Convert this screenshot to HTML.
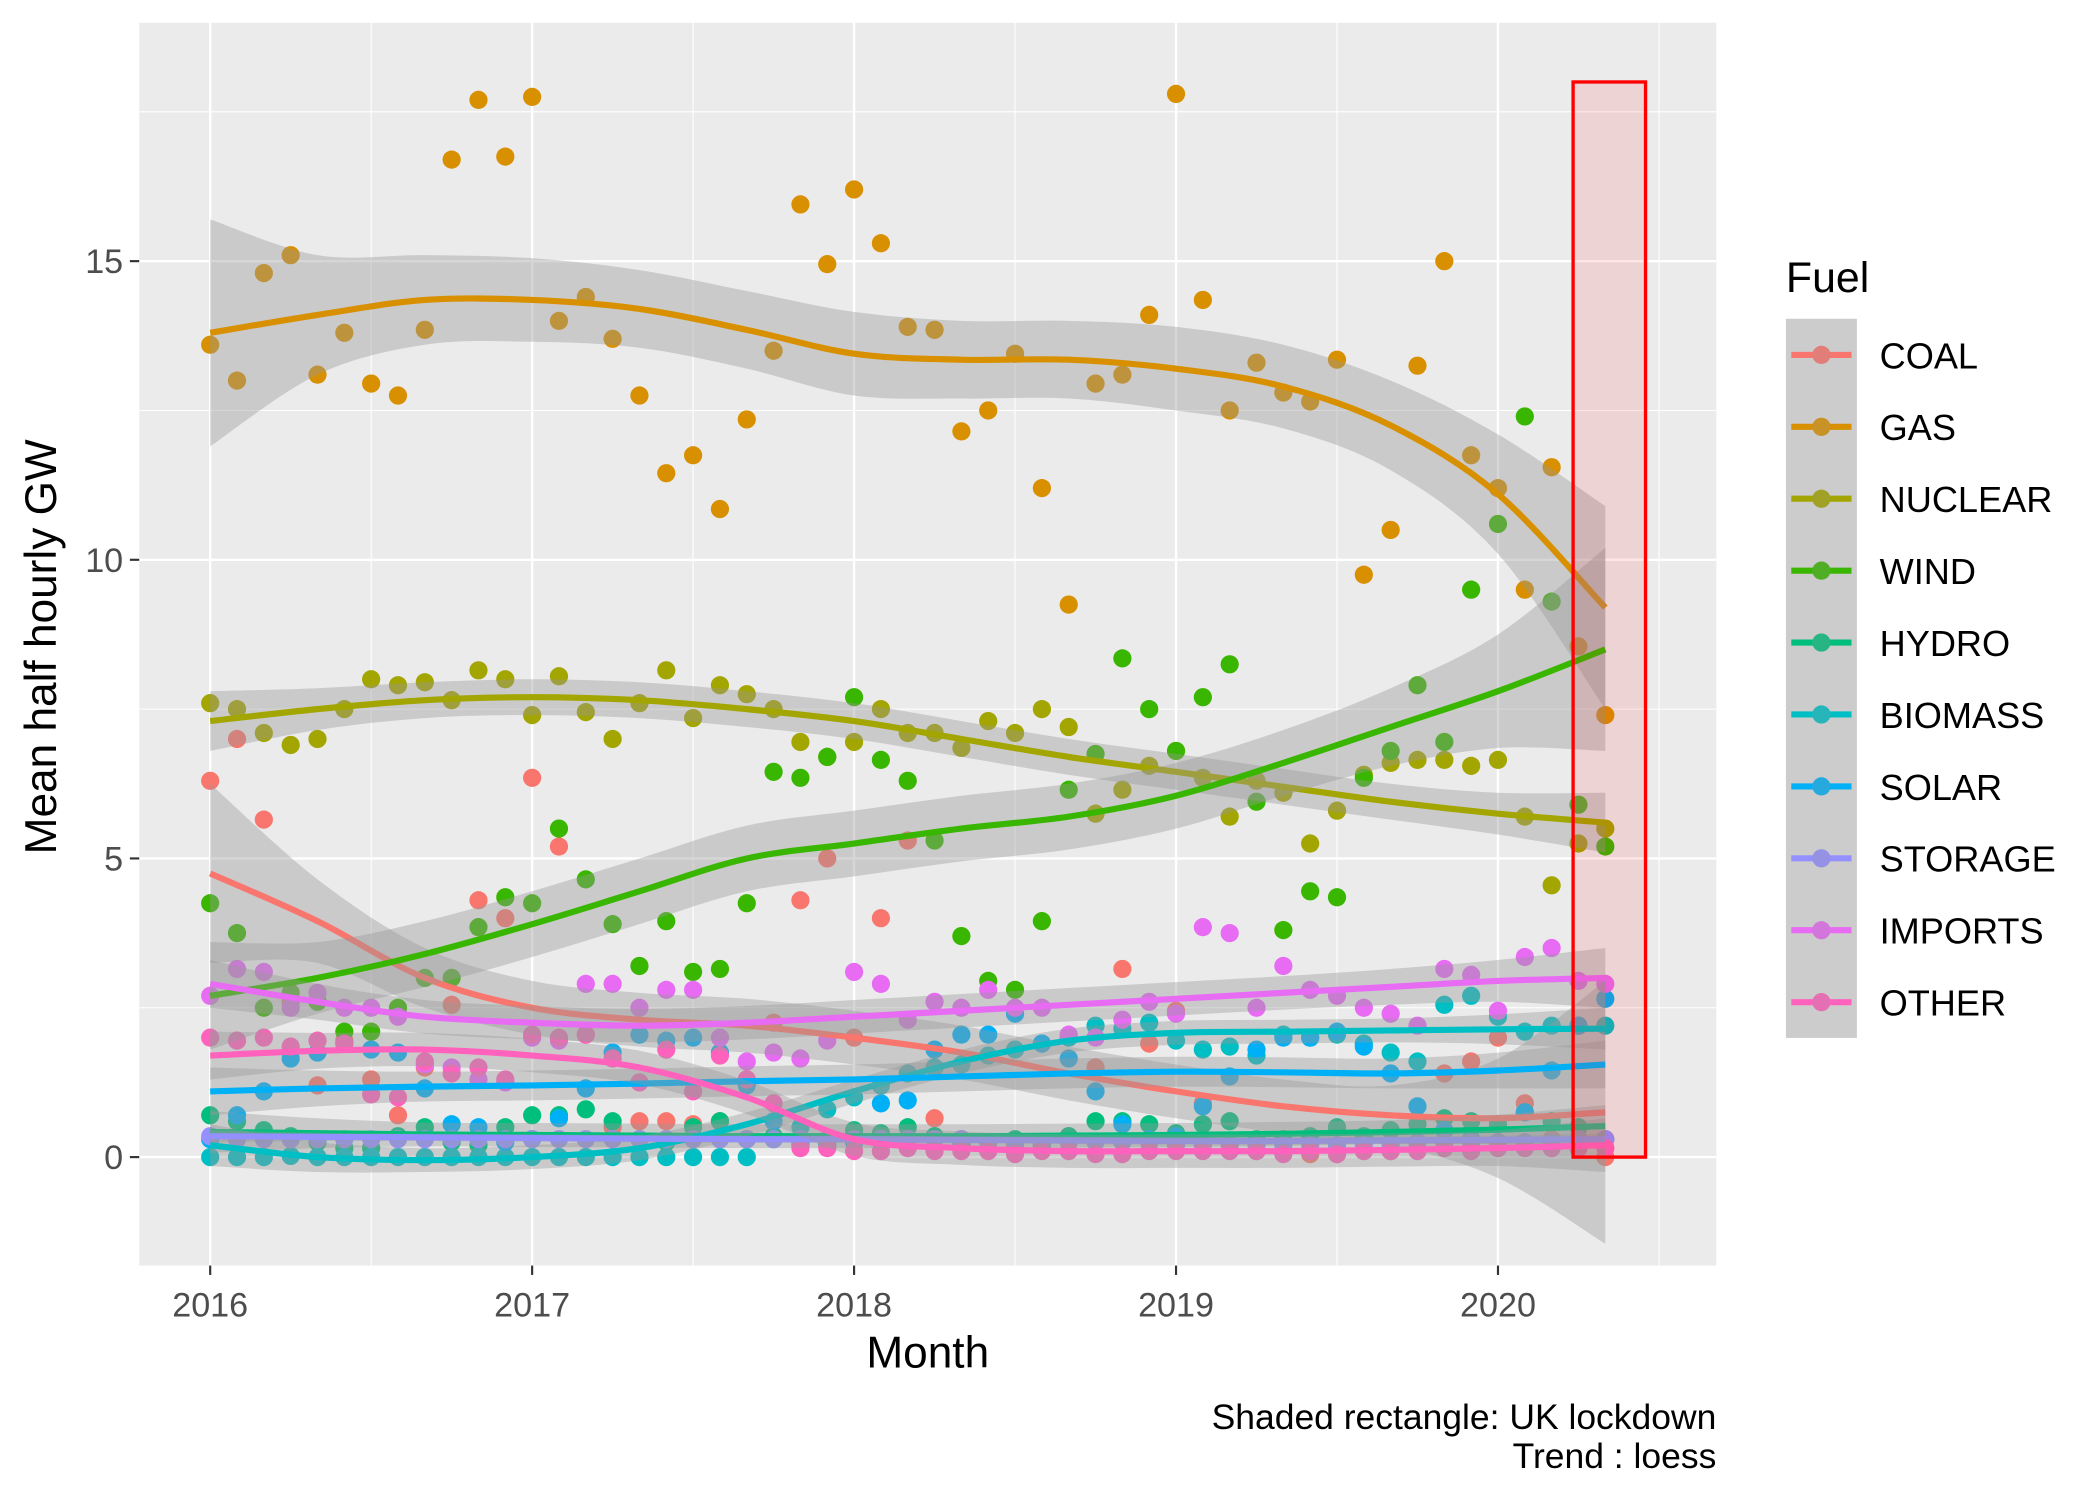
<!DOCTYPE html>
<html><head><meta charset="utf-8">
<style>
html,body{margin:0;padding:0;background:#fff;}
svg{display:block;font-family:"Liberation Sans",Arial,sans-serif;}
</style></head>
<body>
<svg id="chart" width="2100" height="1499" viewBox="0 0 1568.6 1119.3" preserveAspectRatio="none" xmlns="http://www.w3.org/2000/svg">
<rect x="0" y="0" width="1569" height="1120" fill="#fff"/>
<rect x="104" y="17" width="1178" height="928" fill="#EBEBEB"/>
<g id="grid"></g>
<g id="points"></g>
<g id="smooths"></g>
<rect id="lock" fill="rgba(255,0,0,0.1)" stroke="#FF0000" stroke-width="2.5"/>
<g id="axes"></g>
<text x="693" y="1021" font-size="33" text-anchor="middle" fill="#000">Month</text>
<text transform="translate(42,483) rotate(-90)" font-size="33" text-anchor="middle" fill="#000">Mean half hourly GW</text>
<text x="1282" y="1067" font-size="26.5" text-anchor="end" fill="#000">Shaded rectangle: UK lockdown</text>
<text x="1282" y="1096" font-size="26.5" text-anchor="end" fill="#000">Trend : loess</text>
<g id="legend">
<text x="1334" y="218" font-size="32" fill="#000">Fuel</text>
<rect x="1334" y="238" width="53" height="537" fill="#CCCCCC"/>
</g>
</svg>
<script>
const fuels = ["COAL","GAS","NUCLEAR","WIND","HYDRO","BIOMASS","SOLAR","STORAGE","IMPORTS","OTHER"];
const colors = ["#F8766D","#D89000","#A3A500","#39B600","#00BF7D","#00BFC4","#00B0F6","#9590FF","#E76BF3","#FF62BC"];
const yTicks = [0,5,10,15];
const xTickYears = [2016,2017,2018,2019,2020];
const lockdownStart = 50.8, lockdownEnd = 53.5, lockdownTop = 18;
const coal = [6.3,7.0,5.65,2.6,1.2,1.95,1.3,0.7,1.5,2.55,4.3,4.0,6.35,5.2,2.05,0.5,0.6,0.6,0.55,0.6,1.3,2.25,4.3,5.0,2.0,4.0,5.3,0.65,0.3,0.25,0.2,0.2,0.35,1.5,3.15,1.9,2.45,0.9,0.2,0.1,0.1,0.05,0.05,0.1,0.1,0.15,1.4,1.6,2.0,0.9,0.3,0.2,0.0];
const gas = [13.6,13.0,14.8,15.1,13.1,13.8,12.95,12.75,13.85,16.7,17.7,16.75,17.75,14.0,14.4,13.7,12.75,11.45,11.75,10.85,12.35,13.5,15.95,14.95,16.2,15.3,13.9,13.85,12.15,12.5,13.45,11.2,9.25,12.95,13.1,14.1,17.8,14.35,12.5,13.3,12.8,12.65,13.35,9.75,10.5,13.25,15.0,11.75,11.2,9.5,11.55,8.55,7.4];
const nuclear = [7.6,7.5,7.1,6.9,7.0,7.5,8.0,7.9,7.95,7.65,8.15,8.0,7.4,8.05,7.45,7.0,7.6,8.15,7.35,7.9,7.75,7.5,6.95,6.7,6.95,7.5,7.1,7.1,6.85,7.3,7.1,7.5,7.2,5.75,6.15,6.55,6.8,6.35,5.7,6.3,6.1,5.25,5.8,6.4,6.6,6.65,6.65,6.55,6.65,5.7,4.55,5.25,5.5];
const wind = [4.25,3.75,2.5,2.75,2.6,2.1,2.1,2.5,3.0,3.0,3.85,4.35,4.25,5.5,4.65,3.9,3.2,3.95,3.1,3.15,4.25,6.45,6.35,6.7,7.7,6.65,6.3,5.3,3.7,2.95,2.8,3.95,6.15,6.75,8.35,7.5,6.8,7.7,8.25,5.95,3.8,4.45,4.35,6.35,6.8,7.9,6.95,9.5,10.6,12.4,9.3,5.9,5.2];
const hydro = [0.7,0.6,0.45,0.35,0.25,0.15,0.15,0.35,0.5,0.25,0.2,0.5,0.7,0.7,0.8,0.6,0.3,0.25,0.5,0.6,0.3,0.35,0.25,0.3,0.45,0.4,0.5,0.35,0.2,0.25,0.3,0.2,0.35,0.6,0.6,0.55,0.4,0.55,0.6,0.3,0.3,0.35,0.5,0.35,0.45,0.55,0.65,0.6,0.55,0.75,0.6,0.5,0.3];
const biomass = [0.0,0.0,0.0,0.02,0.0,0.0,0.0,0.0,0.0,0.0,0.0,0.0,0.0,0.0,0.0,0.0,0.0,0.0,0.0,0.0,0.0,0.3,0.5,0.8,1.0,1.2,1.4,1.5,1.55,1.7,1.8,1.9,2.0,2.2,2.15,2.25,1.95,1.8,1.85,1.7,2.05,2.0,2.05,1.9,1.75,1.6,2.55,2.7,2.35,2.1,2.2,2.2,2.2];
const solar = [0.3,0.7,1.1,1.65,1.75,1.9,1.8,1.75,1.15,0.55,0.5,0.25,0.3,0.65,1.15,1.75,2.05,1.95,2.0,1.75,1.2,0.6,0.2,0.2,0.25,0.9,0.95,1.8,2.05,2.05,2.4,1.9,1.65,1.1,0.55,0.3,0.35,0.85,1.35,1.8,2.0,2.0,2.1,1.85,1.4,0.85,0.45,0.3,0.25,0.75,1.45,2.2,2.65];
const storage = [0.35,0.3,0.3,0.3,0.3,0.3,0.3,0.3,0.3,0.3,0.3,0.3,0.3,0.3,0.3,0.3,0.3,0.3,0.3,0.3,0.3,0.3,0.3,0.3,0.3,0.3,0.3,0.3,0.3,0.25,0.25,0.25,0.25,0.25,0.25,0.25,0.2,0.2,0.2,0.2,0.2,0.2,0.2,0.2,0.2,0.25,0.25,0.25,0.25,0.25,0.25,0.3,0.3];
const imports = [2.7,3.15,3.1,2.5,2.75,2.5,2.5,2.35,1.55,1.5,1.3,1.25,2.0,1.95,2.9,2.9,2.5,2.8,2.8,2.0,1.6,1.75,1.65,1.95,3.1,2.9,2.3,2.6,2.5,2.8,2.5,2.5,2.05,2.0,2.3,2.6,2.4,3.85,3.75,2.5,3.2,2.8,2.7,2.5,2.4,2.2,3.15,3.05,2.45,3.35,3.5,2.95,2.9];
const other = [2.0,1.95,2.0,1.85,1.95,1.9,1.05,1.0,1.6,1.4,1.5,1.3,2.05,2.0,2.05,1.65,1.25,1.8,1.1,1.7,1.3,0.9,0.15,0.15,0.1,0.1,0.15,0.1,0.1,0.1,0.05,0.1,0.1,0.05,0.05,0.1,0.1,0.1,0.1,0.1,0.05,0.1,0.05,0.1,0.1,0.1,0.15,0.1,0.15,0.15,0.15,0.15,0.15];
const seriesValues = [coal,gas,nuclear,wind,hydro,biomass,solar,storage,imports,other];
const trendMonths = [0,4,8,12,16,20,24,28,32,36,40,44,48,52];
const coalTrend = [4.75,3.95,3.0,2.5,2.3,2.2,2.0,1.75,1.4,1.1,0.85,0.7,0.65,0.75];
const gasTrend = [13.8,14.1,14.35,14.35,14.2,13.85,13.45,13.35,13.35,13.2,12.9,12.25,11.1,9.2];
const nuclearTrend = [7.3,7.5,7.65,7.7,7.65,7.5,7.3,7.0,6.7,6.45,6.2,5.95,5.75,5.6];
const windTrend = [2.7,3.0,3.4,3.9,4.45,5.0,5.25,5.5,5.7,6.05,6.6,7.2,7.8,8.5];
const hydroTrend = [0.42,0.4,0.38,0.37,0.36,0.35,0.35,0.35,0.36,0.37,0.39,0.42,0.46,0.52];
const biomassTrend = [0.2,0.0,-0.05,0.0,0.15,0.55,1.1,1.6,1.95,2.08,2.1,2.12,2.14,2.15];
const solarTrend = [1.1,1.15,1.18,1.2,1.23,1.27,1.3,1.35,1.4,1.43,1.42,1.4,1.45,1.55];
const storageTrend = [0.35,0.34,0.33,0.32,0.31,0.3,0.3,0.29,0.28,0.27,0.27,0.28,0.29,0.3];
const importsTrend = [2.9,2.6,2.35,2.25,2.2,2.25,2.35,2.45,2.55,2.65,2.75,2.85,2.95,3.0];
const otherTrend = [1.7,1.78,1.8,1.7,1.5,1.0,0.3,0.15,0.1,0.1,0.1,0.12,0.15,0.2];
const coalSE = [1.5,0.7,0.5,0.45,0.45,0.45,0.45,0.45,0.45,0.45,0.45,0.5,1.0,2.2];
const gasSE = [1.9,1.0,0.75,0.7,0.65,0.65,0.7,0.65,0.65,0.7,0.7,0.75,1.0,1.7];
const nuclearSE = [0.5,0.35,0.3,0.3,0.3,0.3,0.3,0.3,0.3,0.3,0.3,0.3,0.35,0.5];
const windSE = [0.9,0.6,0.55,0.55,0.55,0.55,0.55,0.55,0.55,0.55,0.55,0.65,0.95,1.7];
const hydroSE = [0.35,0.25,0.2,0.2,0.2,0.2,0.2,0.2,0.2,0.2,0.2,0.2,0.25,0.35];
const biomassSE = [0.35,0.25,0.2,0.2,0.2,0.2,0.2,0.2,0.2,0.2,0.2,0.2,0.25,0.35];
const solarSE = [0.4,0.3,0.25,0.25,0.25,0.25,0.25,0.25,0.25,0.25,0.25,0.25,0.3,0.4];
const storageSE = [0.1,0.07,0.06,0.06,0.06,0.06,0.06,0.06,0.06,0.06,0.06,0.06,0.07,0.1];
const importsSE = [0.4,0.3,0.28,0.28,0.28,0.28,0.28,0.28,0.28,0.28,0.28,0.3,0.35,0.5];
const otherSE = [0.4,0.3,0.28,0.28,0.28,0.28,0.28,0.28,0.28,0.28,0.28,0.28,0.3,0.45];
const trends = [coalTrend,gasTrend,nuclearTrend,windTrend,hydroTrend,biomassTrend,solarTrend,storageTrend,importsTrend,otherTrend];
const ses = [coalSE,gasSE,nuclearSE,windSE,hydroSE,biomassSE,solarSE,storageSE,importsSE,otherSE];

const NS = "http://www.w3.org/2000/svg";
const X0 = 157, PX_PER_MONTH = 20.04, Y0 = 864, PX_PER_GW = 44.6;
function xs(m){ return X0 + m*PX_PER_MONTH; }
function ys(v){ return Y0 - v*PX_PER_GW; }
function mk(tag, attrs, parent){ const e=document.createElementNS(NS,tag); for(const k in attrs) e.setAttribute(k,attrs[k]); parent.appendChild(e); return e; }
function curve(pts){
  let d = "M"+pts[0][0].toFixed(2)+","+pts[0][1].toFixed(2);
  for(let i=0;i<pts.length-1;i++){
    const p0=pts[Math.max(0,i-1)], p1=pts[i], p2=pts[i+1], p3=pts[Math.min(pts.length-1,i+2)];
    const c1=[p1[0]+(p2[0]-p0[0])/6, p1[1]+(p2[1]-p0[1])/6];
    const c2=[p2[0]-(p3[0]-p1[0])/6, p2[1]-(p3[1]-p1[1])/6];
    d += " C"+c1[0].toFixed(2)+","+c1[1].toFixed(2)+" "+c2[0].toFixed(2)+","+c2[1].toFixed(2)+" "+p2[0].toFixed(2)+","+p2[1].toFixed(2);
  }
  return d;
}
function curveCont(pts){ return curve(pts).replace(/^M/,"L"); }

// grid
const grid = document.getElementById("grid");
[2.5,7.5,12.5,17.5].forEach(v=>{ const l=mk("line",{x1:104,x2:1282,y1:ys(v),y2:ys(v),stroke:"#fff","stroke-width":0.8},grid);

 });
yTicks.forEach(v=>{ const l=mk("line",{x1:104,x2:1282,y1:ys(v),y2:ys(v),stroke:"#fff","stroke-width":1.8},grid);

 });
xTickYears.forEach((yr,i)=>{ const m=(yr-2016)*12;
 const l=mk("line",{x1:xs(m),x2:xs(m),y1:17,y2:945,stroke:"#fff","stroke-width":1.8},grid);
 
 
 const l2=mk("line",{x1:xs(m+6),x2:xs(m+6),y1:17,y2:945,stroke:"#fff","stroke-width":0.8},grid);
 
  });
const lm=mk("line",{x1:xs(-6),x2:xs(-6),y1:17,y2:945,stroke:"#fff","stroke-width":0.8},grid);



// points
const pg = document.getElementById("points");
seriesValues.forEach((vals,f)=>{
  vals.forEach((v,m)=>{
    const c=mk("circle",{cx:xs(m),cy:ys(v),r:6.8,fill:colors[f]},pg);
    
    
  });
});

// smooths
const sg = document.getElementById("smooths");
trends.forEach((tr,f)=>{
  const up = trendMonths.map((m,i)=>[xs(m),ys(tr[i]+ses[f][i])]);
  const lo = trendMonths.map((m,i)=>[xs(m),ys(tr[i]-ses[f][i])]).reverse();
  const rib = mk("path",{d:curve(up)+" "+curveCont(lo)+" Z",fill:"#999999","fill-opacity":0.4},sg);
  
  
  const line = mk("path",{d:curve(trendMonths.map((m,i)=>[xs(m),ys(tr[i])])),fill:"none",stroke:colors[f],"stroke-width":4.6},sg);
  
  
});

// lockdown rect
const lk=document.getElementById("lock");
lk.setAttribute("x",xs(lockdownStart)); lk.setAttribute("width",xs(lockdownEnd)-xs(lockdownStart));
lk.setAttribute("y",ys(lockdownTop)); lk.setAttribute("height",ys(0)-ys(lockdownTop));

// axes
const ax=document.getElementById("axes");
yTicks.forEach(v=>{
  const t=mk("line",{x1:97,x2:104,y1:ys(v),y2:ys(v),stroke:"#333","stroke-width":1.6},ax);
  
  
  const tx=mk("text",{x:92,y:ys(v)+9,"font-size":25.5,"text-anchor":"end",fill:"#4D4D4D"},ax);
  tx.textContent=v;
  
  
});
xTickYears.forEach(yr=>{
  const m=(yr-2016)*12;
  const t=mk("line",{x1:xs(m),x2:xs(m),y1:945,y2:952,stroke:"#333","stroke-width":1.6},ax);
  
  
  const tx=mk("text",{x:xs(m),y:983,"font-size":25.5,"text-anchor":"middle",fill:"#4D4D4D"},ax);
  tx.textContent=yr;
  
  
});

// legend
const lg=document.getElementById("legend");
fuels.forEach((f,i)=>{
  const cy=265+i*53.7;
  const l=mk("line",{x1:1338,x2:1383,y1:cy,y2:cy,stroke:colors[i],"stroke-width":4.6},lg);
  
  
  const c=mk("circle",{cx:1360.5,cy:cy,r:6.8,fill:colors[i]},lg);
  
  
  const c2=mk("circle",{cx:1360.5,cy:cy,r:6.8,fill:"#999","fill-opacity":0.25},lg);
  
  
  const t=mk("text",{x:1404,y:cy+10,"font-size":27,fill:"#000"},lg);
  t.textContent=f;
  
  
});
</script>
</body></html>
